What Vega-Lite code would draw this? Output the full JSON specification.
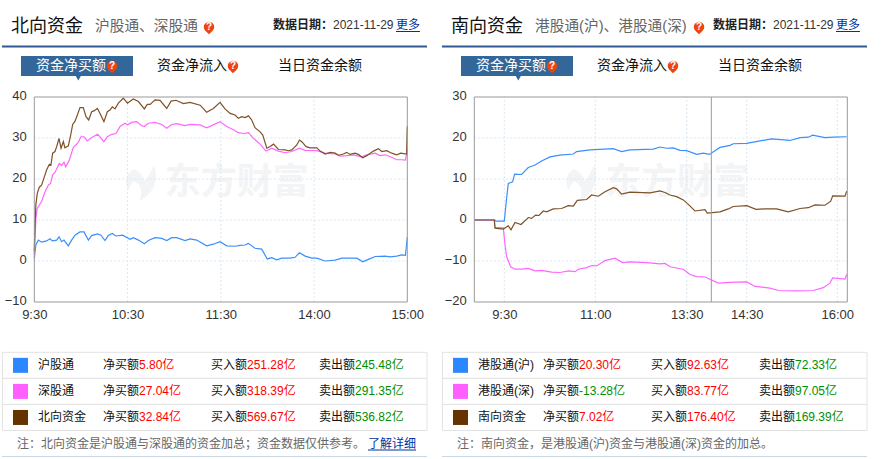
{
"$schema":"https://vega.github.io/schema/vega-lite/v6.json",
"padding":0,"spacing":0,"bounds":"flush","columns":2,
"background":"white",
"config":{"view":{"stroke":null},"text":{"font":"Liberation Sans, Noto Sans CJK SC","baseline":"middle","align":"left"},"axis":{"labelFont":"Liberation Sans","labelFontSize":13,"labelColor":"#333333"}},
"datasets":{
"north":[
{"s":"沪股通","t":0,"v":0.6},{"s":"沪股通","t":1,"v":3.9},{"s":"沪股通","t":2.6,"v":5.1},{"s":"沪股通","t":4.7,"v":4.6},{"s":"沪股通","t":7.9,"v":4.9},{"s":"沪股通","t":10.1,"v":5.4},{"s":"沪股通","t":11.6,"v":4.9},{"s":"沪股通","t":14.4,"v":5.1},{"s":"沪股通","t":15.9,"v":5.9},{"s":"沪股通","t":17.6,"v":4.7},{"s":"沪股通","t":19.1,"v":5.1},{"s":"沪股通","t":21.9,"v":3.7},{"s":"沪股通","t":24,"v":5.1},{"s":"沪股通","t":26.2,"v":6.3},{"s":"沪股通","t":29.4,"v":7.1},{"s":"沪股通","t":32,"v":7.1},{"s":"沪股通","t":34.8,"v":5.1},{"s":"沪股通","t":36.9,"v":6.2},{"s":"沪股通","t":40.6,"v":6.6},{"s":"沪股通","t":42.9,"v":6.3},{"s":"沪股通","t":45.5,"v":5},{"s":"沪股通","t":47.6,"v":6.2},{"s":"沪股通","t":50.2,"v":6.7},{"s":"沪股通","t":52.4,"v":6.1},{"s":"沪股通","t":56.9,"v":6.3},{"s":"沪股通","t":61.6,"v":5.3},{"s":"沪股通","t":63.7,"v":5.7},{"s":"沪股通","t":67,"v":5.1},{"s":"沪股通","t":70.8,"v":4.2},{"s":"沪股通","t":73.4,"v":5},{"s":"沪股通","t":77.7,"v":5.7},{"s":"沪股通","t":82,"v":5.5},{"s":"沪股通","t":85.2,"v":5},{"s":"沪股通","t":88.4,"v":5.7},{"s":"沪股通","t":91.6,"v":5.7},{"s":"沪股通","t":97,"v":5},{"s":"沪股通","t":100.2,"v":5.4},{"s":"沪股通","t":104.5,"v":5.1},{"s":"沪股通","t":110.9,"v":3.7},{"s":"沪股通","t":115.2,"v":4.1},{"s":"沪股通","t":119.5,"v":4.7},{"s":"沪股通","t":123.8,"v":3.7},{"s":"沪股通","t":129.2,"v":3.6},{"s":"沪股通","t":132.4,"v":3.8},{"s":"沪股通","t":135.6,"v":3.9},{"s":"沪股通","t":137.8,"v":4.3},{"s":"沪股通","t":142,"v":3.1},{"s":"沪股通","t":146.3,"v":2.9},{"s":"沪股通","t":149.9,"v":0.5},{"s":"沪股通","t":152.8,"v":0.8},{"s":"沪股通","t":156,"v":0.3},{"s":"沪股通","t":159.2,"v":0.7},{"s":"沪股通","t":164.6,"v":0.7},{"s":"沪股通","t":167.8,"v":0.9},{"s":"沪股通","t":170.6,"v":2},{"s":"沪股通","t":174.3,"v":1.2},{"s":"沪股通","t":178.6,"v":0.7},{"s":"沪股通","t":181.8,"v":0.7},{"s":"沪股通","t":187.1,"v":0},{"s":"沪股通","t":193.6,"v":0.2},{"s":"沪股通","t":197.9,"v":0.7},{"s":"沪股通","t":207.6,"v":0.7},{"s":"沪股通","t":211.3,"v":-0.2},{"s":"沪股通","t":215,"v":0.4},{"s":"沪股通","t":219.3,"v":1.1},{"s":"沪股通","t":225.7,"v":1.2},{"s":"沪股通","t":228.9,"v":1},{"s":"沪股通","t":233.2,"v":1.2},{"s":"沪股通","t":236.4,"v":1.5},{"s":"沪股通","t":238.8,"v":1.4},{"s":"沪股通","t":240,"v":5.8},
{"s":"深股通","t":0,"v":1.5},{"s":"深股通","t":1,"v":10.4},{"s":"深股通","t":1.9,"v":12.8},{"s":"深股通","t":4.7,"v":14.5},{"s":"深股通","t":6.9,"v":16.9},{"s":"深股通","t":9,"v":18.5},{"s":"深股通","t":10.5,"v":18.9},{"s":"深股通","t":11.8,"v":21},{"s":"深股通","t":13.3,"v":21.6},{"s":"深股通","t":16.1,"v":23.8},{"s":"深股通","t":17.6,"v":23.3},{"s":"深股通","t":19.1,"v":24.1},{"s":"深股通","t":20.2,"v":23},{"s":"深股通","t":22.5,"v":24.6},{"s":"深股通","t":25.1,"v":27.7},{"s":"深股通","t":28.3,"v":28.9},{"s":"深股通","t":30,"v":30.3},{"s":"深股通","t":32,"v":30.3},{"s":"深股通","t":34.1,"v":29.3},{"s":"深股通","t":36.9,"v":30.1},{"s":"深股通","t":40.8,"v":30.9},{"s":"深股通","t":42.3,"v":30.3},{"s":"深股通","t":44.8,"v":29.1},{"s":"深股通","t":47,"v":30.3},{"s":"深股通","t":49.8,"v":30.9},{"s":"深股通","t":52.6,"v":31.1},{"s":"深股通","t":55.2,"v":32.8},{"s":"深股通","t":58.4,"v":33.6},{"s":"深股通","t":59.9,"v":33.2},{"s":"深股通","t":62.7,"v":33.8},{"s":"深股通","t":65.9,"v":34},{"s":"深股通","t":69.1,"v":33},{"s":"深股通","t":70.8,"v":32.8},{"s":"深股通","t":73.4,"v":33.6},{"s":"深股通","t":77.7,"v":33.8},{"s":"深股通","t":82,"v":33.3},{"s":"深股通","t":85.2,"v":32.4},{"s":"深股通","t":88.4,"v":33.3},{"s":"深股通","t":91.6,"v":33.5},{"s":"深股通","t":97,"v":33},{"s":"深股通","t":100.2,"v":33.3},{"s":"深股通","t":106.7,"v":33.2},{"s":"深股通","t":110.9,"v":32.5},{"s":"深股通","t":115.2,"v":33.2},{"s":"深股通","t":119.5,"v":34},{"s":"深股通","t":123.8,"v":32.8},{"s":"深股通","t":128.1,"v":32},{"s":"深股通","t":131.3,"v":31.3},{"s":"深股通","t":134.5,"v":31.1},{"s":"深股通","t":137.8,"v":31.3},{"s":"深股通","t":141,"v":29.9},{"s":"深股通","t":145.3,"v":28.5},{"s":"深股通","t":149.1,"v":26.8},{"s":"深股通","t":152.8,"v":27.5},{"s":"深股通","t":157.1,"v":26.8},{"s":"深股通","t":161.4,"v":26.4},{"s":"深股通","t":165.7,"v":26.7},{"s":"深股通","t":170.6,"v":27.5},{"s":"深股通","t":174.3,"v":27},{"s":"深股通","t":181.8,"v":26.9},{"s":"深股通","t":187.1,"v":26.3},{"s":"深股通","t":193.6,"v":26.1},{"s":"深股通","t":196.8,"v":25.6},{"s":"深股通","t":201,"v":25.7},{"s":"深股通","t":205.4,"v":25.9},{"s":"深股通","t":210.7,"v":25.4},{"s":"深股通","t":213.9,"v":25.9},{"s":"深股通","t":219.3,"v":26.3},{"s":"深股通","t":222.5,"v":25.7},{"s":"深股通","t":225.7,"v":25.9},{"s":"深股通","t":230,"v":25.3},{"s":"深股通","t":233.2,"v":24.7},{"s":"深股通","t":236.4,"v":24.7},{"s":"深股通","t":238.8,"v":24.6},{"s":"深股通","t":240,"v":27.04},
{"s":"北向资金","t":0,"v":2.3},{"s":"北向资金","t":0.4,"v":8},{"s":"北向资金","t":1,"v":13.7},{"s":"北向资金","t":1.9,"v":16.5},{"s":"北向资金","t":3.2,"v":18},{"s":"北向资金","t":4.7,"v":18.5},{"s":"北向资金","t":6.2,"v":20.2},{"s":"北向资金","t":7.9,"v":22.2},{"s":"北向资金","t":9.7,"v":23.6},{"s":"北向资金","t":10.7,"v":23.4},{"s":"北向资金","t":11.8,"v":26.3},{"s":"北向资金","t":13.3,"v":26.7},{"s":"北向资金","t":14.4,"v":27.9},{"s":"北向资金","t":15.9,"v":29.9},{"s":"北向资金","t":17.2,"v":27.5},{"s":"北向资金","t":18.7,"v":29.1},{"s":"北向资金","t":19.7,"v":27.6},{"s":"北向资金","t":21.9,"v":28.1},{"s":"北向资金","t":23.4,"v":30.7},{"s":"北向资金","t":24.7,"v":33.3},{"s":"北向资金","t":26.2,"v":34.1},{"s":"北向资金","t":27.7,"v":35.6},{"s":"北向资金","t":29.4,"v":37.4},{"s":"北向资金","t":31.5,"v":37.4},{"s":"北向资金","t":33.3,"v":35.2},{"s":"北向资金","t":35,"v":34.4},{"s":"北向资金","t":36.9,"v":36.4},{"s":"北向资金","t":38.4,"v":36.6},{"s":"北向资金","t":40.6,"v":37.2},{"s":"北向资金","t":42.3,"v":36},{"s":"北向资金","t":44.8,"v":34},{"s":"北向资金","t":47,"v":36.4},{"s":"北向资金","t":48.7,"v":36.8},{"s":"北向资金","t":50.2,"v":37.6},{"s":"北向资金","t":51.9,"v":37.1},{"s":"北向资金","t":54.1,"v":38.5},{"s":"北向资金","t":57.3,"v":39.7},{"s":"北向资金","t":59.9,"v":38.5},{"s":"北向资金","t":63.7,"v":39.5},{"s":"北向资金","t":67,"v":38.9},{"s":"北向资金","t":70.8,"v":37.1},{"s":"北向资金","t":72.7,"v":38.2},{"s":"北向资金","t":74.5,"v":38.2},{"s":"北向资金","t":77.7,"v":39.3},{"s":"北向资金","t":80.9,"v":39.2},{"s":"北向资金","t":85.2,"v":37.2},{"s":"北向资金","t":88,"v":39},{"s":"北向资金","t":91.2,"v":39.2},{"s":"北向资金","t":95.9,"v":38.4},{"s":"北向资金","t":100.2,"v":38.7},{"s":"北向资金","t":106.7,"v":38},{"s":"北向资金","t":110.9,"v":36.3},{"s":"北向资金","t":115.2,"v":37.2},{"s":"北向资金","t":119.5,"v":38.7},{"s":"北向资金","t":122.7,"v":37.1},{"s":"北向资金","t":126,"v":36},{"s":"北向资金","t":129.2,"v":35.6},{"s":"北向资金","t":131.3,"v":34.8},{"s":"北向资金","t":133.5,"v":35.2},{"s":"北向资金","t":135.6,"v":35},{"s":"北向资金","t":137.8,"v":35.4},{"s":"北向资金","t":139.9,"v":34.4},{"s":"北向资金","t":142,"v":32.5},{"s":"北向资金","t":145.3,"v":31.5},{"s":"北向资金","t":147,"v":30.7},{"s":"北向资金","t":149.6,"v":27.5},{"s":"北向资金","t":151.7,"v":27.9},{"s":"北向资金","t":153.9,"v":28.5},{"s":"北向资金","t":157.1,"v":27.2},{"s":"北向资金","t":161.4,"v":27.1},{"s":"北向资金","t":163.5,"v":26.9},{"s":"北向资金","t":165.7,"v":27.1},{"s":"北向资金","t":168.9,"v":28.3},{"s":"北向资金","t":170.6,"v":29.5},{"s":"北向资金","t":172.1,"v":29.1},{"s":"北向资金","t":174.9,"v":27.9},{"s":"北向资金","t":177.5,"v":27.6},{"s":"北向资金","t":181.8,"v":27.6},{"s":"北向资金","t":183.9,"v":26.8},{"s":"北向资金","t":187.1,"v":26.1},{"s":"北向资金","t":190.4,"v":26.5},{"s":"北向资金","t":193.6,"v":26.3},{"s":"北向资金","t":195.7,"v":25.8},{"s":"北向资金","t":198.9,"v":26.1},{"s":"北向资金","t":201,"v":26.5},{"s":"北向资金","t":203.2,"v":26},{"s":"北向资金","t":206.4,"v":26.3},{"s":"北向资金","t":208.5,"v":26},{"s":"北向资金","t":211.3,"v":25.2},{"s":"北向资金","t":213.9,"v":25.7},{"s":"北向资金","t":218.2,"v":26.8},{"s":"北向资金","t":221.4,"v":27.4},{"s":"北向资金","t":223.6,"v":26.7},{"s":"北向资金","t":226.8,"v":26.9},{"s":"北向资金","t":230,"v":26.3},{"s":"北向资金","t":233.2,"v":25.9},{"s":"北向资金","t":235.8,"v":26.3},{"s":"北向资金","t":239.5,"v":26.1},{"s":"北向资金","t":240,"v":32.84}
],
"south":[
{"s":"港股通(沪)","t":0,"v":0},{"s":"港股通(沪)","t":20,"v":0},{"s":"港股通(沪)","t":21.7,"v":-0.25},{"s":"港股通(沪)","t":30,"v":-0.25},{"s":"港股通(沪)","t":32.3,"v":5.3},{"s":"港股通(沪)","t":34,"v":8.9},{"s":"港股通(沪)","t":38.3,"v":9.3},{"s":"港股通(沪)","t":40.3,"v":11.2},{"s":"港股通(沪)","t":47.3,"v":11.1},{"s":"港股通(沪)","t":54,"v":12.8},{"s":"港股通(沪)","t":60.7,"v":13.4},{"s":"港股通(沪)","t":67.3,"v":14.4},{"s":"港股通(沪)","t":75.7,"v":15.4},{"s":"港股通(沪)","t":85.7,"v":15.8},{"s":"港股通(沪)","t":99,"v":16.1},{"s":"港股通(沪)","t":102.3,"v":16.7},{"s":"港股通(沪)","t":115.7,"v":17.1},{"s":"港股通(沪)","t":139,"v":17.4},{"s":"港股通(沪)","t":147.3,"v":16.7},{"s":"港股通(沪)","t":155.7,"v":17.1},{"s":"港股通(沪)","t":179,"v":17.3},{"s":"港股通(沪)","t":185.7,"v":17.8},{"s":"港股通(沪)","t":192.4,"v":17.5},{"s":"港股通(沪)","t":199,"v":17.6},{"s":"港股通(沪)","t":205.7,"v":17},{"s":"港股通(沪)","t":212.4,"v":16.9},{"s":"港股通(沪)","t":222.4,"v":16},{"s":"港股通(沪)","t":229,"v":16.3},{"s":"港股通(沪)","t":235,"v":16},{"s":"港股通(沪)","t":245.7,"v":17.7},{"s":"港股通(沪)","t":255.7,"v":18.2},{"s":"港股通(沪)","t":259,"v":18.6},{"s":"港股通(沪)","t":272.4,"v":18.7},{"s":"港股通(沪)","t":285.7,"v":19.3},{"s":"港股通(沪)","t":297.4,"v":19.8},{"s":"港股通(沪)","t":315.7,"v":19.4},{"s":"港股通(沪)","t":325.7,"v":20.1},{"s":"港股通(沪)","t":334,"v":20.2},{"s":"港股通(沪)","t":338.4,"v":20.7},{"s":"港股通(沪)","t":350.7,"v":20.1},{"s":"港股通(沪)","t":359,"v":20.2},{"s":"港股通(沪)","t":372.4,"v":20.3},
{"s":"港股通(深)","t":0,"v":0},{"s":"港股通(深)","t":20,"v":0},{"s":"港股通(深)","t":20.7,"v":-1.8},{"s":"港股通(深)","t":29,"v":-1.9},{"s":"港股通(深)","t":30.7,"v":-6.1},{"s":"港股通(深)","t":32.3,"v":-8.9},{"s":"港股通(深)","t":36.3,"v":-11.4},{"s":"港股通(深)","t":40.7,"v":-12},{"s":"港股通(深)","t":47.3,"v":-12},{"s":"港股通(深)","t":54,"v":-11.8},{"s":"港股通(深)","t":60.7,"v":-12.4},{"s":"港股通(深)","t":67.3,"v":-12.3},{"s":"港股通(深)","t":77.3,"v":-12.7},{"s":"港股通(深)","t":85.7,"v":-12.8},{"s":"港股通(深)","t":94,"v":-12.4},{"s":"港股通(深)","t":100.7,"v":-12.6},{"s":"港股通(深)","t":104,"v":-12},{"s":"港股通(深)","t":112.3,"v":-11.6},{"s":"港股通(深)","t":117.3,"v":-11.1},{"s":"港股通(深)","t":122.3,"v":-11.2},{"s":"港股通(深)","t":130.7,"v":-9.9},{"s":"港股通(深)","t":140.7,"v":-9.3},{"s":"港股通(深)","t":148.3,"v":-10.4},{"s":"港股通(深)","t":155.7,"v":-10.2},{"s":"港股通(深)","t":172.3,"v":-10.4},{"s":"港股通(深)","t":185.7,"v":-10.7},{"s":"港股通(深)","t":190.7,"v":-10.6},{"s":"港股通(深)","t":195.7,"v":-11.4},{"s":"港股通(深)","t":209,"v":-12},{"s":"港股通(深)","t":215.7,"v":-13.3},{"s":"港股通(深)","t":222.4,"v":-13.8},{"s":"港股通(深)","t":230.7,"v":-13.9},{"s":"港股通(深)","t":244,"v":-15.4},{"s":"港股通(深)","t":255.7,"v":-15.2},{"s":"港股通(深)","t":272.4,"v":-15.1},{"s":"港股通(深)","t":280.7,"v":-16.2},{"s":"港股通(深)","t":295.7,"v":-16.6},{"s":"港股通(深)","t":304,"v":-17.2},{"s":"港股通(深)","t":322.4,"v":-17.3},{"s":"港股通(深)","t":339,"v":-17.2},{"s":"港股通(深)","t":349,"v":-16.5},{"s":"港股通(深)","t":355.7,"v":-15.4},{"s":"港股通(深)","t":358.4,"v":-14.1},{"s":"港股通(深)","t":370.7,"v":-14.4},{"s":"港股通(深)","t":372.4,"v":-13.28},
{"s":"南向资金","t":0,"v":0},{"s":"南向资金","t":20,"v":0},{"s":"南向资金","t":20.7,"v":-2},{"s":"南向资金","t":29,"v":-2.2},{"s":"南向资金","t":34,"v":-1.4},{"s":"南向资金","t":36.7,"v":-2.4},{"s":"南向资金","t":40.7,"v":-0.6},{"s":"南向资金","t":46.7,"v":-1.1},{"s":"南向资金","t":54,"v":0.6},{"s":"南向资金","t":57.3,"v":0.4},{"s":"南向资金","t":61.3,"v":1.2},{"s":"南向资金","t":64.7,"v":1.1},{"s":"南向资金","t":69,"v":2.2},{"s":"南向资金","t":72.3,"v":2},{"s":"南向资金","t":79,"v":2.7},{"s":"南向资金","t":87.3,"v":2.8},{"s":"南向资金","t":94,"v":3.5},{"s":"南向资金","t":99,"v":3.4},{"s":"南向资金","t":103,"v":4.8},{"s":"南向资金","t":112.3,"v":5},{"s":"南向资金","t":117.3,"v":6.1},{"s":"南向资金","t":124,"v":5.8},{"s":"南向资金","t":130.7,"v":6.9},{"s":"南向资金","t":139,"v":7.9},{"s":"南向资金","t":142.3,"v":7.6},{"s":"南向资金","t":147.3,"v":6.3},{"s":"南向资金","t":155.7,"v":6.8},{"s":"南向资金","t":175.7,"v":6.6},{"s":"南向资金","t":185.7,"v":7.1},{"s":"南向资金","t":190.7,"v":6.7},{"s":"南向资金","t":195.7,"v":6.1},{"s":"南向资金","t":202.4,"v":5.7},{"s":"南向资金","t":209,"v":4.9},{"s":"南向资金","t":214,"v":3.8},{"s":"南向资金","t":220.7,"v":2.2},{"s":"南向资金","t":230.7,"v":2.5},{"s":"南向资金","t":233,"v":1.7},{"s":"南向资金","t":245.7,"v":2},{"s":"南向资金","t":254,"v":2.7},{"s":"南向资金","t":259,"v":3.3},{"s":"南向资金","t":272.4,"v":3.5},{"s":"南向资金","t":281.7,"v":2.6},{"s":"南向资金","t":290.7,"v":2.7},{"s":"南向资金","t":302.4,"v":2.7},{"s":"南向资金","t":314,"v":2},{"s":"南向资金","t":325.7,"v":2.8},{"s":"南向资金","t":334,"v":3},{"s":"南向资金","t":340.7,"v":3.7},{"s":"南向资金","t":350.7,"v":3.6},{"s":"南向资金","t":356.4,"v":4.6},{"s":"南向资金","t":358.4,"v":5.9},{"s":"南向资金","t":370.7,"v":5.8},{"s":"南向资金","t":372.4,"v":7.02}
],
"northTable":[
{"row":"沪股通","col":"净买额","val":"5.80亿","dir":"up"},{"row":"沪股通","col":"买入额","val":"251.28亿","dir":"up"},{"row":"沪股通","col":"卖出额","val":"245.48亿","dir":"down"},
{"row":"深股通","col":"净买额","val":"27.04亿","dir":"up"},{"row":"深股通","col":"买入额","val":"318.39亿","dir":"up"},{"row":"深股通","col":"卖出额","val":"291.35亿","dir":"down"},
{"row":"北向资金","col":"净买额","val":"32.84亿","dir":"up"},{"row":"北向资金","col":"买入额","val":"569.67亿","dir":"up"},{"row":"北向资金","col":"卖出额","val":"536.82亿","dir":"down"}
],
"southTable":[
{"row":"港股通(沪)","col":"净买额","val":"20.30亿","dir":"up"},{"row":"港股通(沪)","col":"买入额","val":"92.63亿","dir":"up"},{"row":"港股通(沪)","col":"卖出额","val":"72.33亿","dir":"down"},
{"row":"港股通(深)","col":"净买额","val":"-13.28亿","dir":"down"},{"row":"港股通(深)","col":"买入额","val":"83.77亿","dir":"up"},{"row":"港股通(深)","col":"卖出额","val":"97.05亿","dir":"down"},
{"row":"南向资金","col":"净买额","val":"7.02亿","dir":"up"},{"row":"南向资金","col":"买入额","val":"176.40亿","dir":"up"},{"row":"南向资金","col":"卖出额","val":"169.39亿","dir":"down"}
]
},
"concat":[
{"width":440,"height":97,
 "layer":[
 {"data":{"values":[{"n":"tab"}]},"mark":{"type":"rect","fill":"#336699"},"encoding":{"x":{"datum":21,"type":"quantitative","scale":{"domain":[0,440]},"axis":null},"x2":{"datum":133},"y":{"datum":56,"type":"quantitative","scale":{"domain":[0,97],"reverse":true},"axis":null},"y2":{"datum":76}}},
 {"data":{"values":[{"n":"tab"}]},"mark":{"type":"point","shape":"triangle-down","filled":true,"size":45,"color":"#336699","opacity":1},"encoding":{"x":{"datum":78.3,"type":"quantitative","scale":{"domain":[0,440]},"axis":null},"y":{"datum":77.5,"type":"quantitative","scale":{"domain":[0,97],"reverse":true},"axis":null}}},
 {"data":{"values":[{"n":"line"}]},"mark":{"type":"rule","color":"#2f5a94","strokeWidth":2},"encoding":{"x":{"datum":2,"type":"quantitative","scale":{"domain":[0,440]},"axis":null},"x2":{"datum":427},"y":{"datum":46.5,"type":"quantitative","scale":{"domain":[0,97],"reverse":true},"axis":null}}},
 {"data":{"values":[{"n":"link"}]},"mark":{"type":"rule","color":"#003399","strokeWidth":1},"encoding":{"x":{"datum":396,"type":"quantitative","scale":{"domain":[0,440]},"axis":null},"x2":{"datum":420},"y":{"datum":31.5,"type":"quantitative","scale":{"domain":[0,97],"reverse":true},"axis":null}}},
 {"data":{"values":[{"k":"title","t":"北向资金"},{"k":"sub","t":"沪股通、深股通"},{"k":"dl","t":"数据日期："},{"k":"dv","t":"2021-11-29"},{"k":"more","t":"更多"},{"k":"t1","t":"资金净买额"},{"k":"t2","t":"资金净流入"},{"k":"t3","t":"当日资金余额"},{"k":"i0","t":"?"},{"k":"i1","t":"?"},{"k":"i2","t":"?"}]},
 "transform":[{"calculate":"{title:11,sub:95,dl:273,dv:333,more:396,t1:36,t2:157,t3:278,i0:209,i1:112,i2:233}[datum.k]","as":"px"},{"calculate":"{title:27,sub:27,dl:25,dv:25,more:25,t1:66,t2:66,t3:66,i0:27,i1:66,i2:66}[datum.k]","as":"py"}],
 "encoding":{"x":{"field":"px","type":"quantitative","scale":{"domain":[0,440]},"axis":null},"y":{"field":"py","type":"quantitative","scale":{"domain":[0,97],"reverse":true},"axis":null},"text":{"field":"t"}},
 "layer":[
 {"transform":[{"filter":{"field":"k","oneOf":["title"]}}],"mark":{"type":"text","fontSize":18,"color":"#111111"}},
 {"transform":[{"filter":{"field":"k","oneOf":["sub"]}}],"mark":{"type":"text","fontSize":14.7,"color":"#666666"}},
 {"transform":[{"filter":{"field":"k","oneOf":["dl"]}}],"mark":{"type":"text","fontSize":12,"fontWeight":"bold","color":"#222222"}},
 {"transform":[{"filter":{"field":"k","oneOf":["dv"]}}],"mark":{"type":"text","fontSize":12,"color":"#333333"}},
 {"transform":[{"filter":{"field":"k","oneOf":["more"]}}],"mark":{"type":"text","fontSize":12,"color":"#003399"}},
 {"transform":[{"filter":{"field":"k","oneOf":["t1"]}}],"mark":{"type":"text","fontSize":14,"color":"#ffffff"}},
 {"transform":[{"filter":{"field":"k","oneOf":["t2","t3"]}}],"mark":{"type":"text","fontSize":14,"color":"#111111"}},
 {"transform":[{"filter":{"field":"k","oneOf":["i0","i1","i2"]}}],"mark":{"type":"point","filled":true,"opacity":1,"size":110,"color":"#ee4411","shape":"M-1,0A1,1 0 1 1 0.6,0.8L0,1.4L-0.6,0.8A1,1 0 0 1 -1,0Z"}},
 {"transform":[{"filter":{"field":"k","oneOf":["i0","i1","i2"]}}],"mark":{"type":"text","fontSize":10,"fontWeight":"bold","color":"#ffffff","align":"center"}}
 ]}
 ]},
{"width":440,"height":97,
 "layer":[
 {"data":{"values":[{"n":"tab"}]},"mark":{"type":"rect","fill":"#336699"},"encoding":{"x":{"datum":21,"type":"quantitative","scale":{"domain":[0,440]},"axis":null},"x2":{"datum":133},"y":{"datum":56,"type":"quantitative","scale":{"domain":[0,97],"reverse":true},"axis":null},"y2":{"datum":76}}},
 {"data":{"values":[{"n":"tab"}]},"mark":{"type":"point","shape":"triangle-down","filled":true,"size":45,"color":"#336699","opacity":1},"encoding":{"x":{"datum":78.3,"type":"quantitative","scale":{"domain":[0,440]},"axis":null},"y":{"datum":77.5,"type":"quantitative","scale":{"domain":[0,97],"reverse":true},"axis":null}}},
 {"data":{"values":[{"n":"line"}]},"mark":{"type":"rule","color":"#2f5a94","strokeWidth":2},"encoding":{"x":{"datum":2,"type":"quantitative","scale":{"domain":[0,440]},"axis":null},"x2":{"datum":427},"y":{"datum":46.5,"type":"quantitative","scale":{"domain":[0,97],"reverse":true},"axis":null}}},
 {"data":{"values":[{"n":"link"}]},"mark":{"type":"rule","color":"#003399","strokeWidth":1},"encoding":{"x":{"datum":396,"type":"quantitative","scale":{"domain":[0,440]},"axis":null},"x2":{"datum":420},"y":{"datum":31.5,"type":"quantitative","scale":{"domain":[0,97],"reverse":true},"axis":null}}},
 {"data":{"values":[{"k":"title","t":"南向资金"},{"k":"sub","t":"港股通(沪)、港股通(深)"},{"k":"dl","t":"数据日期："},{"k":"dv","t":"2021-11-29"},{"k":"more","t":"更多"},{"k":"t1","t":"资金净买额"},{"k":"t2","t":"资金净流入"},{"k":"t3","t":"当日资金余额"},{"k":"i0","t":"?"},{"k":"i1","t":"?"},{"k":"i2","t":"?"}]},
 "transform":[{"calculate":"{title:11,sub:95,dl:273,dv:333,more:396,t1:36,t2:157,t3:278,i0:259,i1:112,i2:233}[datum.k]","as":"px"},{"calculate":"{title:27,sub:27,dl:25,dv:25,more:25,t1:66,t2:66,t3:66,i0:27,i1:66,i2:66}[datum.k]","as":"py"}],
 "encoding":{"x":{"field":"px","type":"quantitative","scale":{"domain":[0,440]},"axis":null},"y":{"field":"py","type":"quantitative","scale":{"domain":[0,97],"reverse":true},"axis":null},"text":{"field":"t"}},
 "layer":[
 {"transform":[{"filter":{"field":"k","oneOf":["title"]}}],"mark":{"type":"text","fontSize":18,"color":"#111111"}},
 {"transform":[{"filter":{"field":"k","oneOf":["sub"]}}],"mark":{"type":"text","fontSize":14.7,"color":"#666666"}},
 {"transform":[{"filter":{"field":"k","oneOf":["dl"]}}],"mark":{"type":"text","fontSize":12,"fontWeight":"bold","color":"#222222"}},
 {"transform":[{"filter":{"field":"k","oneOf":["dv"]}}],"mark":{"type":"text","fontSize":12,"color":"#333333"}},
 {"transform":[{"filter":{"field":"k","oneOf":["more"]}}],"mark":{"type":"text","fontSize":12,"color":"#003399"}},
 {"transform":[{"filter":{"field":"k","oneOf":["t1"]}}],"mark":{"type":"text","fontSize":14,"color":"#ffffff"}},
 {"transform":[{"filter":{"field":"k","oneOf":["t2","t3"]}}],"mark":{"type":"text","fontSize":14,"color":"#111111"}},
 {"transform":[{"filter":{"field":"k","oneOf":["i0","i1","i2"]}}],"mark":{"type":"point","filled":true,"opacity":1,"size":110,"color":"#ee4411","shape":"M-1,0A1,1 0 1 1 0.6,0.8L0,1.4L-0.6,0.8A1,1 0 0 1 -1,0Z"}},
 {"transform":[{"filter":{"field":"k","oneOf":["i0","i1","i2"]}}],"mark":{"type":"text","fontSize":10,"fontWeight":"bold","color":"#ffffff","align":"center"}}
 ]}
 ]},
{"width":440,"height":205,
 "layer":[
 {"data":{"values":[{"w":"东方财富"}]},"mark":{"type":"text","fontSize":36,"fontWeight":"bold","color":"#f3f4f5"},"encoding":{"x":{"datum":84,"type":"quantitative","scale":{"domain":[0,240],"range":[34.3,407.3],"nice":false}},"y":{"datum":19,"type":"quantitative","scale":{"domain":[-10,40],"nice":false}},"text":{"field":"w"}}},
 {"data":{"values":[{"w":"logo"}]},"mark":{"type":"point","filled":true,"opacity":1,"color":"#f3f4f5","size":1300,"shape":"M0.6,-1C0.9,-0.2 0.6,0.6 -0.2,1C0,0.4 -0.1,0.1 -0.5,-0.1C-0.7,0.1 -0.8,0.3 -0.8,0.4C-1.1,-0.1 -0.9,-0.6 -0.5,-0.8C-0.2,-0.6 0,-0.4 0.1,-0.1C0.3,-0.4 0.5,-0.7 0.6,-1Z"},"encoding":{"x":{"datum":70,"type":"quantitative"},"y":{"datum":19,"type":"quantitative"}}},
 {"data":{"values":[{"g":60},{"g":120},{"g":180}]},"mark":{"type":"rule","color":"#dbe8f3","strokeDash":[2,2]},"encoding":{"x":{"field":"g","type":"quantitative"},"y":{"datum":-10,"type":"quantitative"},"y2":{"datum":40}}},
 {"data":{"values":[{"g":0},{"g":10},{"g":20},{"g":30}]},"mark":{"type":"rule","color":"#dbe8f3","strokeDash":[2,2]},"encoding":{"y":{"field":"g","type":"quantitative"},"x":{"datum":0,"type":"quantitative"},"x2":{"datum":240}}},
 {"data":{"name":"north"},"mark":{"type":"line","strokeWidth":1.2},"encoding":{
   "x":{"field":"t","type":"quantitative","scale":{"domain":[0,240],"range":[34.3,407.3],"nice":false},"axis":{"values":[0,60,120,180,240],"labelExpr":"{'0':'9:30','60':'10:30','120':'11:30','180':'14:00','240':'15:00'}[datum.value]","title":null,"domain":false,"ticks":false,"grid":false,"labelPadding":6,"labelFlush":false,"labelOverlap":false}},
   "y":{"field":"v","type":"quantitative","scale":{"domain":[-10,40],"nice":false},"axis":{"values":[-10,0,10,20,30,40],"title":null,"domain":false,"ticks":false,"grid":false,"offset":-34.3,"labelPadding":8,"labelOffset":-1.5,"labelFlush":false,"labelOverlap":false}},
   "color":{"field":"s","type":"nominal","scale":{"domain":["沪股通","深股通","北向资金"],"range":["#3a8fff","#ff66ff","#7d5228"]},"legend":null}}},
 {"data":{"values":[{"n":"frame"}]},"mark":{"type":"rect","fill":null,"stroke":"#999999","strokeWidth":1},"encoding":{"x":{"datum":0,"type":"quantitative"},"x2":{"datum":240},"y":{"datum":-10,"type":"quantitative"},"y2":{"datum":40}}}
 ]},
{"width":440,"height":205,
 "layer":[
 {"data":{"values":[{"w":"东方财富"}]},"mark":{"type":"text","fontSize":36,"fontWeight":"bold","color":"#f3f4f5"},"encoding":{"x":{"datum":131,"type":"quantitative","scale":{"domain":[0,373],"range":[34.3,407.3],"nice":false}},"y":{"datum":9,"type":"quantitative","scale":{"domain":[-20,30],"nice":false}},"text":{"field":"w"}}},
 {"data":{"values":[{"w":"logo"}]},"mark":{"type":"point","filled":true,"opacity":1,"color":"#f3f4f5","size":1300,"shape":"M0.6,-1C0.9,-0.2 0.6,0.6 -0.2,1C0,0.4 -0.1,0.1 -0.5,-0.1C-0.7,0.1 -0.8,0.3 -0.8,0.4C-1.1,-0.1 -0.9,-0.6 -0.5,-0.8C-0.2,-0.6 0,-0.4 0.1,-0.1C0.3,-0.4 0.5,-0.7 0.6,-1Z"},"encoding":{"x":{"datum":109,"type":"quantitative"},"y":{"datum":9,"type":"quantitative"}}},
 {"data":{"values":[{"g":30},{"g":121},{"g":212.4},{"g":272.4},{"g":363}]},"mark":{"type":"rule","color":"#dbe8f3","strokeDash":[2,2]},"encoding":{"x":{"field":"g","type":"quantitative"},"y":{"datum":-20,"type":"quantitative"},"y2":{"datum":30}}},
 {"data":{"values":[{"g":-10},{"g":0},{"g":10},{"g":20}]},"mark":{"type":"rule","color":"#dbe8f3","strokeDash":[2,2]},"encoding":{"y":{"field":"g","type":"quantitative"},"x":{"datum":0,"type":"quantitative"},"x2":{"datum":373}}},
 {"data":{"name":"south"},"mark":{"type":"line","strokeWidth":1.2},"encoding":{
   "x":{"field":"t","type":"quantitative","scale":{"domain":[0,373],"range":[34.3,407.3],"nice":false},"axis":{"values":[30,121,212.4,272.4,363],"labelExpr":"{'30':'9:30','121':'11:00','212.4':'13:30','272.4':'14:30','363':'16:00'}[datum.value]","title":null,"domain":false,"ticks":false,"grid":false,"labelPadding":6,"labelFlush":false,"labelOverlap":false}},
   "y":{"field":"v","type":"quantitative","scale":{"domain":[-20,30],"nice":false},"axis":{"values":[-20,-10,0,10,20,30],"title":null,"domain":false,"ticks":false,"grid":false,"offset":-34.3,"labelPadding":8,"labelOffset":-1.5,"labelFlush":false,"labelOverlap":false}},
   "color":{"field":"s","type":"nominal","scale":{"domain":["港股通(沪)","港股通(深)","南向资金"],"range":["#3a8fff","#ff66ff","#7d5228"]},"legend":null}}},
 {"data":{"values":[{"g":237}]},"mark":{"type":"rule","color":"#999999"},"encoding":{"x":{"field":"g","type":"quantitative"},"y":{"datum":-20,"type":"quantitative"},"y2":{"datum":30}}},
 {"data":{"values":[{"n":"frame"}]},"mark":{"type":"rect","fill":null,"stroke":"#999999","strokeWidth":1},"encoding":{"x":{"datum":0,"type":"quantitative"},"x2":{"datum":373},"y":{"datum":-20,"type":"quantitative"},"y2":{"datum":30}}}
 ]},
{"width":440,"height":130,
 "encoding":{"y":{"field":"row","type":"nominal","scale":{"type":"band","domain":["沪股通","深股通","北向资金"],"range":[50.3,128.5],"padding":0},"axis":null}},
 "resolve":{"scale":{"x":"independent","color":"independent"}},
 "layer":[
 {"data":{"values":[{"row":"沪股通"},{"row":"深股通"},{"row":"北向资金"}]},"mark":{"type":"rect","fill":"#ffffff","stroke":"#e3e3e3","strokeWidth":1},"encoding":{"x":{"datum":2.5,"type":"quantitative","scale":{"domain":[0,440]},"axis":null},"x2":{"datum":427}}},
 {"data":{"values":[{"row":"沪股通"},{"row":"深股通"},{"row":"北向资金"}]},"mark":{"type":"point","shape":"square","filled":true,"opacity":1,"size":225},"encoding":{"x":{"datum":20.5,"type":"quantitative","scale":{"domain":[0,440]},"axis":null},"color":{"field":"row","type":"nominal","scale":{"domain":["沪股通","深股通","北向资金"],"range":["#2b87ff","#ff5fff","#663300"]},"legend":null}}},
 {"data":{"values":[{"row":"沪股通"},{"row":"深股通"},{"row":"北向资金"}]},"mark":{"type":"text","fontSize":12,"color":"#111111"},"encoding":{"x":{"datum":38,"type":"quantitative","scale":{"domain":[0,440]},"axis":null},"text":{"field":"row"}}},
 {"data":{"name":"northTable"},"mark":{"type":"text","fontSize":12,"color":"#111111"},"encoding":{"x":{"field":"col","type":"nominal","scale":{"type":"point","domain":["净买额","买入额","卖出额"],"range":[103,319],"padding":0},"axis":null},"text":{"field":"col"}}},
 {"data":{"name":"northTable"},"mark":{"type":"text","fontSize":12,"dx":36},"encoding":{"x":{"field":"col","type":"nominal","scale":{"type":"point","domain":["净买额","买入额","卖出额"],"range":[103,319],"padding":0},"axis":null},"text":{"field":"val"},"color":{"field":"dir","type":"nominal","scale":{"domain":["up","down"],"range":["#ff0000","#008f00"]},"legend":null}}}
 ]},
{"width":440,"height":130,
 "encoding":{"y":{"field":"row","type":"nominal","scale":{"type":"band","domain":["港股通(沪)","港股通(深)","南向资金"],"range":[50.3,128.5],"padding":0},"axis":null}},
 "resolve":{"scale":{"x":"independent","color":"independent"}},
 "layer":[
 {"data":{"values":[{"row":"港股通(沪)"},{"row":"港股通(深)"},{"row":"南向资金"}]},"mark":{"type":"rect","fill":"#ffffff","stroke":"#e3e3e3","strokeWidth":1},"encoding":{"x":{"datum":2.5,"type":"quantitative","scale":{"domain":[0,440]},"axis":null},"x2":{"datum":427}}},
 {"data":{"values":[{"row":"港股通(沪)"},{"row":"港股通(深)"},{"row":"南向资金"}]},"mark":{"type":"point","shape":"square","filled":true,"opacity":1,"size":225},"encoding":{"x":{"datum":20.5,"type":"quantitative","scale":{"domain":[0,440]},"axis":null},"color":{"field":"row","type":"nominal","scale":{"domain":["港股通(沪)","港股通(深)","南向资金"],"range":["#2b87ff","#ff5fff","#663300"]},"legend":null}}},
 {"data":{"values":[{"row":"港股通(沪)"},{"row":"港股通(深)"},{"row":"南向资金"}]},"mark":{"type":"text","fontSize":12,"color":"#111111"},"encoding":{"x":{"datum":38,"type":"quantitative","scale":{"domain":[0,440]},"axis":null},"text":{"field":"row"}}},
 {"data":{"name":"southTable"},"mark":{"type":"text","fontSize":12,"color":"#111111"},"encoding":{"x":{"field":"col","type":"nominal","scale":{"type":"point","domain":["净买额","买入额","卖出额"],"range":[103,319],"padding":0},"axis":null},"text":{"field":"col"}}},
 {"data":{"name":"southTable"},"mark":{"type":"text","fontSize":12,"dx":36},"encoding":{"x":{"field":"col","type":"nominal","scale":{"type":"point","domain":["净买额","买入额","卖出额"],"range":[103,319],"padding":0},"axis":null},"text":{"field":"val"},"color":{"field":"dir","type":"nominal","scale":{"domain":["up","down"],"range":["#ff0000","#008f00"]},"legend":null}}}
 ]},
{"width":440,"height":27,
 "layer":[
 {"data":{"values":[{"n":"u"}]},"mark":{"type":"rule","color":"#003399"},"encoding":{"x":{"datum":368,"type":"quantitative","scale":{"domain":[0,440]},"axis":null},"x2":{"datum":416},"y":{"datum":18,"type":"quantitative","scale":{"domain":[0,27],"reverse":true},"axis":null}}},
 {"data":{"values":[{"n":"b"}]},"mark":{"type":"rule","color":"#c8d8e6"},"encoding":{"x":{"datum":2,"type":"quantitative","scale":{"domain":[0,440]},"axis":null},"x2":{"datum":427},"y":{"datum":24.5,"type":"quantitative","scale":{"domain":[0,27],"reverse":true},"axis":null}}},
 {"data":{"values":[{"t":"注：北向资金是沪股通与深股通的资金加总；资金数据仅供参考。"}]},"mark":{"type":"text","fontSize":12,"color":"#666666"},"encoding":{"x":{"datum":17,"type":"quantitative","scale":{"domain":[0,440]},"axis":null},"y":{"datum":12,"type":"quantitative","scale":{"domain":[0,27],"reverse":true},"axis":null},"text":{"field":"t"}}},
 {"data":{"values":[{"t":"了解详细"}]},"mark":{"type":"text","fontSize":12,"color":"#003399"},"encoding":{"x":{"datum":368,"type":"quantitative","scale":{"domain":[0,440]},"axis":null},"y":{"datum":12,"type":"quantitative","scale":{"domain":[0,27],"reverse":true},"axis":null},"text":{"field":"t"}}}
 ]},
{"width":440,"height":27,
 "layer":[
 {"data":{"values":[{"n":"b"}]},"mark":{"type":"rule","color":"#c8d8e6"},"encoding":{"x":{"datum":2,"type":"quantitative","scale":{"domain":[0,440]},"axis":null},"x2":{"datum":427},"y":{"datum":24.5,"type":"quantitative","scale":{"domain":[0,27],"reverse":true},"axis":null}}},
 {"data":{"values":[{"t":"注：南向资金，是港股通(沪)资金与港股通(深)资金的加总。"}]},"mark":{"type":"text","fontSize":12,"color":"#666666"},"encoding":{"x":{"datum":17,"type":"quantitative","scale":{"domain":[0,440]},"axis":null},"y":{"datum":12,"type":"quantitative","scale":{"domain":[0,27],"reverse":true},"axis":null},"text":{"field":"t"}}}
 ]}
]
}
